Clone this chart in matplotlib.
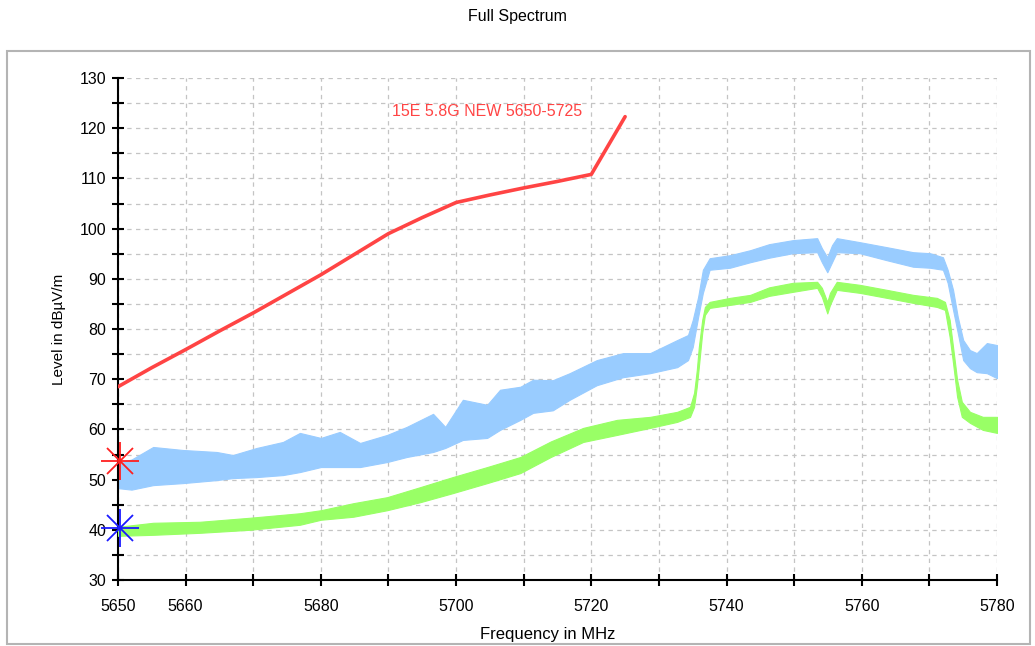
import matplotlib
matplotlib.use("Agg")
import matplotlib.pyplot as plt
from matplotlib.patches import Rectangle
from matplotlib.ticker import MultipleLocator, FixedLocator, FixedFormatter

plt.rcParams["font.family"] = ["Liberation Sans", "DejaVu Sans"]

# limit line (red)
limite_f = [5650, 5655, 5660, 5665, 5670, 5675, 5680, 5685, 5690, 5695,
            5700, 5705, 5710, 5715, 5720, 5725]
limite_v = [68.5, 72.3, 75.9, 79.6, 83.2, 87.0, 90.8, 94.9, 99.0, 102.2,
            105.2, 106.7, 108.1, 109.4, 110.8, 122.3]
limite_nombre = "15E 5.8G NEW 5650-5725"

# peak trace (blue), envelope of the sweep
pico_f = [5650.0, 5652.0, 5655.2, 5659.6, 5664.6, 5667.0, 5670.5, 5674.4, 5676.9, 5680.0,
          5682.8, 5685.8, 5689.8, 5692.7, 5696.6, 5698.4, 5701.0, 5704.6, 5706.5, 5709.5,
          5711.4, 5714.3, 5716.8, 5720.8, 5724.7, 5728.7, 5732.7, 5734.3, 5735.0, 5735.8,
          5736.5, 5737.5, 5740.5, 5743.5, 5746.3, 5749.8, 5753.4, 5754.1, 5754.9, 5755.6,
          5756.3, 5759.7, 5763.7, 5767.6, 5770.1, 5772.0, 5772.7, 5773.5, 5774.2, 5775.0,
          5776.0, 5777.0, 5778.5, 5780.0]
pico_min = [48.3, 48.0, 48.9, 49.3, 49.9, 50.3, 50.5, 50.9, 51.5, 52.5,
            52.5, 52.5, 53.5, 54.5, 55.5, 56.3, 57.9, 58.3, 59.9, 61.9,
            63.3, 63.8, 65.9, 68.8, 70.4, 71.2, 72.4, 73.8, 76.4, 82.4,
            87.2, 91.8, 92.2, 93.3, 94.2, 95.1, 95.3, 93.3, 91.3, 93.3,
            95.3, 95.1, 93.7, 92.4, 92.2, 91.8, 89.2, 83.8, 79.2, 73.8,
            72.2, 71.4, 71.2, 70.2]
pico_max = [53.3, 54.0, 56.5, 55.9, 55.5, 54.9, 56.3, 57.5, 59.3, 58.3,
            59.5, 57.3, 58.9, 60.5, 63.1, 60.5, 65.9, 64.9, 67.9, 68.5,
            69.9, 69.8, 71.2, 73.8, 75.2, 75.2, 77.8, 78.8, 81.8, 86.4,
            91.8, 94.1, 94.7, 95.7, 96.9, 97.7, 98.1, 96.1, 94.3, 96.7,
            98.1, 97.3, 96.3, 95.3, 95.1, 94.3, 91.8, 87.8, 82.4, 77.8,
            75.8, 75.2, 77.2, 76.8]

# average trace (green)
prom_f = [5650.0, 5655.2, 5662.1, 5669.5, 5676.9, 5680.0, 5684.8, 5689.8, 5694.7, 5699.5,
          5704.6, 5709.5, 5714.0, 5718.8, 5723.8, 5728.7, 5732.7, 5734.6, 5735.2, 5735.6,
          5735.9, 5736.4, 5736.8, 5737.5, 5740.5, 5743.5, 5746.3, 5749.8, 5753.4, 5754.1,
          5754.9, 5755.3, 5756.3, 5759.7, 5763.7, 5767.6, 5771.1, 5772.3, 5773.0, 5773.5,
          5774.1, 5774.8, 5776.0, 5777.9, 5780.0]
prom_min = [38.8, 39.0, 39.4, 40.0, 41.0, 42.0, 42.6, 43.9, 45.5, 47.3,
            49.3, 51.3, 54.5, 57.5, 58.9, 60.3, 61.5, 62.5, 64.5, 68.5,
            72.4, 79.2, 82.8, 84.2, 84.8, 85.4, 86.6, 87.4, 88.2, 86.4,
            83.1, 84.8, 87.8, 87.2, 86.2, 85.2, 84.4, 83.8, 78.4, 73.2,
            66.5, 62.5, 61.3, 59.9, 59.3]
prom_max = [40.6, 41.4, 41.6, 42.4, 43.3, 43.9, 45.3, 46.5, 48.5, 50.5,
            52.5, 54.5, 57.6, 60.3, 61.9, 62.5, 63.5, 64.5, 67.3, 71.8,
            76.4, 81.8, 84.4, 85.4, 86.2, 86.8, 88.3, 89.2, 89.4, 88.2,
            85.4, 87.2, 89.4, 88.8, 87.8, 86.8, 86.2, 85.4, 81.8, 76.4,
            69.9, 65.5, 63.5, 62.5, 62.5]

# markers at the start of the band
marca_f = [5650.3, 5650.3]
marca_v = [53.7, 40.3]
marca_col = ["#ff2020", "#1a1aff"]

fig = plt.figure(figsize=(10.35, 6.46), dpi=100)
ax = fig.add_axes([118 / 1035, 1 - 580 / 646, 879 / 1035, 502 / 646])

ax.fill_between(pico_f, pico_min, pico_max, color="#99ccff", lw=0.8,
                edgecolor="#99ccff", zorder=2)
ax.fill_between(prom_f, prom_min, prom_max, color="#99ff66", lw=0.8,
                edgecolor="#99ff66", zorder=3)
ax.plot(limite_f, limite_v, color="#ff4444", lw=2.6, solid_joinstyle="round",
        solid_capstyle="round", zorder=4)
ax.text(5690.5, 123.4, limite_nombre, color="#ff4444", fontsize=11.5,
        ha="left", va="center")

for f, v, c in zip(marca_f, marca_v, marca_col):
    ax.plot(f, v, marker="+", ms=27, mew=1.3, color=c, clip_on=False, zorder=6)
    ax.plot(f, v, marker="x", ms=19, mew=1.3, color=c, clip_on=False, zorder=6)

ax.set_xlim(5650, 5780)
ax.set_ylim(30, 130)

ax.spines["top"].set_visible(False)
ax.spines["right"].set_visible(False)
ax.spines["left"].set_linewidth(1.5)
ax.spines["bottom"].set_linewidth(1.5)

xt = list(range(5650, 5781, 10))
xl = [str(t) if (t == 5650 or (t - 5660) % 20 == 0) else "" for t in xt]
ax.xaxis.set_major_locator(FixedLocator(xt))
ax.xaxis.set_major_formatter(FixedFormatter(xl))
ax.yaxis.set_major_locator(MultipleLocator(10))
ax.yaxis.set_minor_locator(MultipleLocator(5))

ax.tick_params(axis="both", which="both", direction="inout", length=9,
               width=1.5, color="black", labelsize=11.5)
ax.tick_params(axis="x", pad=9)
ax.tick_params(axis="y", pad=4)

ax.grid(True, which="both", color="#c4c4c4", linestyle=(0, (3.5, 3.5)), lw=0.9)
ax.set_axisbelow(True)

ax.set_ylabel("Level in dBµV/m", fontsize=11)
ax.yaxis.set_label_coords(-52 / 879, 0.5)
fig.text(547.5 / 1035, 1 - 635 / 646, "Frequency in MHz", fontsize=12,
         ha="center", va="center")
fig.text(517 / 1035, 1 - 17 / 646, "Full Spectrum", fontsize=11.5,
         ha="center", va="center")

fig.patches.append(Rectangle((7 / 1035, 2 / 646), 1023 / 1035, 593 / 646,
                             transform=fig.transFigure, fill=False,
                             edgecolor="#b4b4b4", lw=1.5, zorder=10))

fig.savefig("out.png", dpi=100)
